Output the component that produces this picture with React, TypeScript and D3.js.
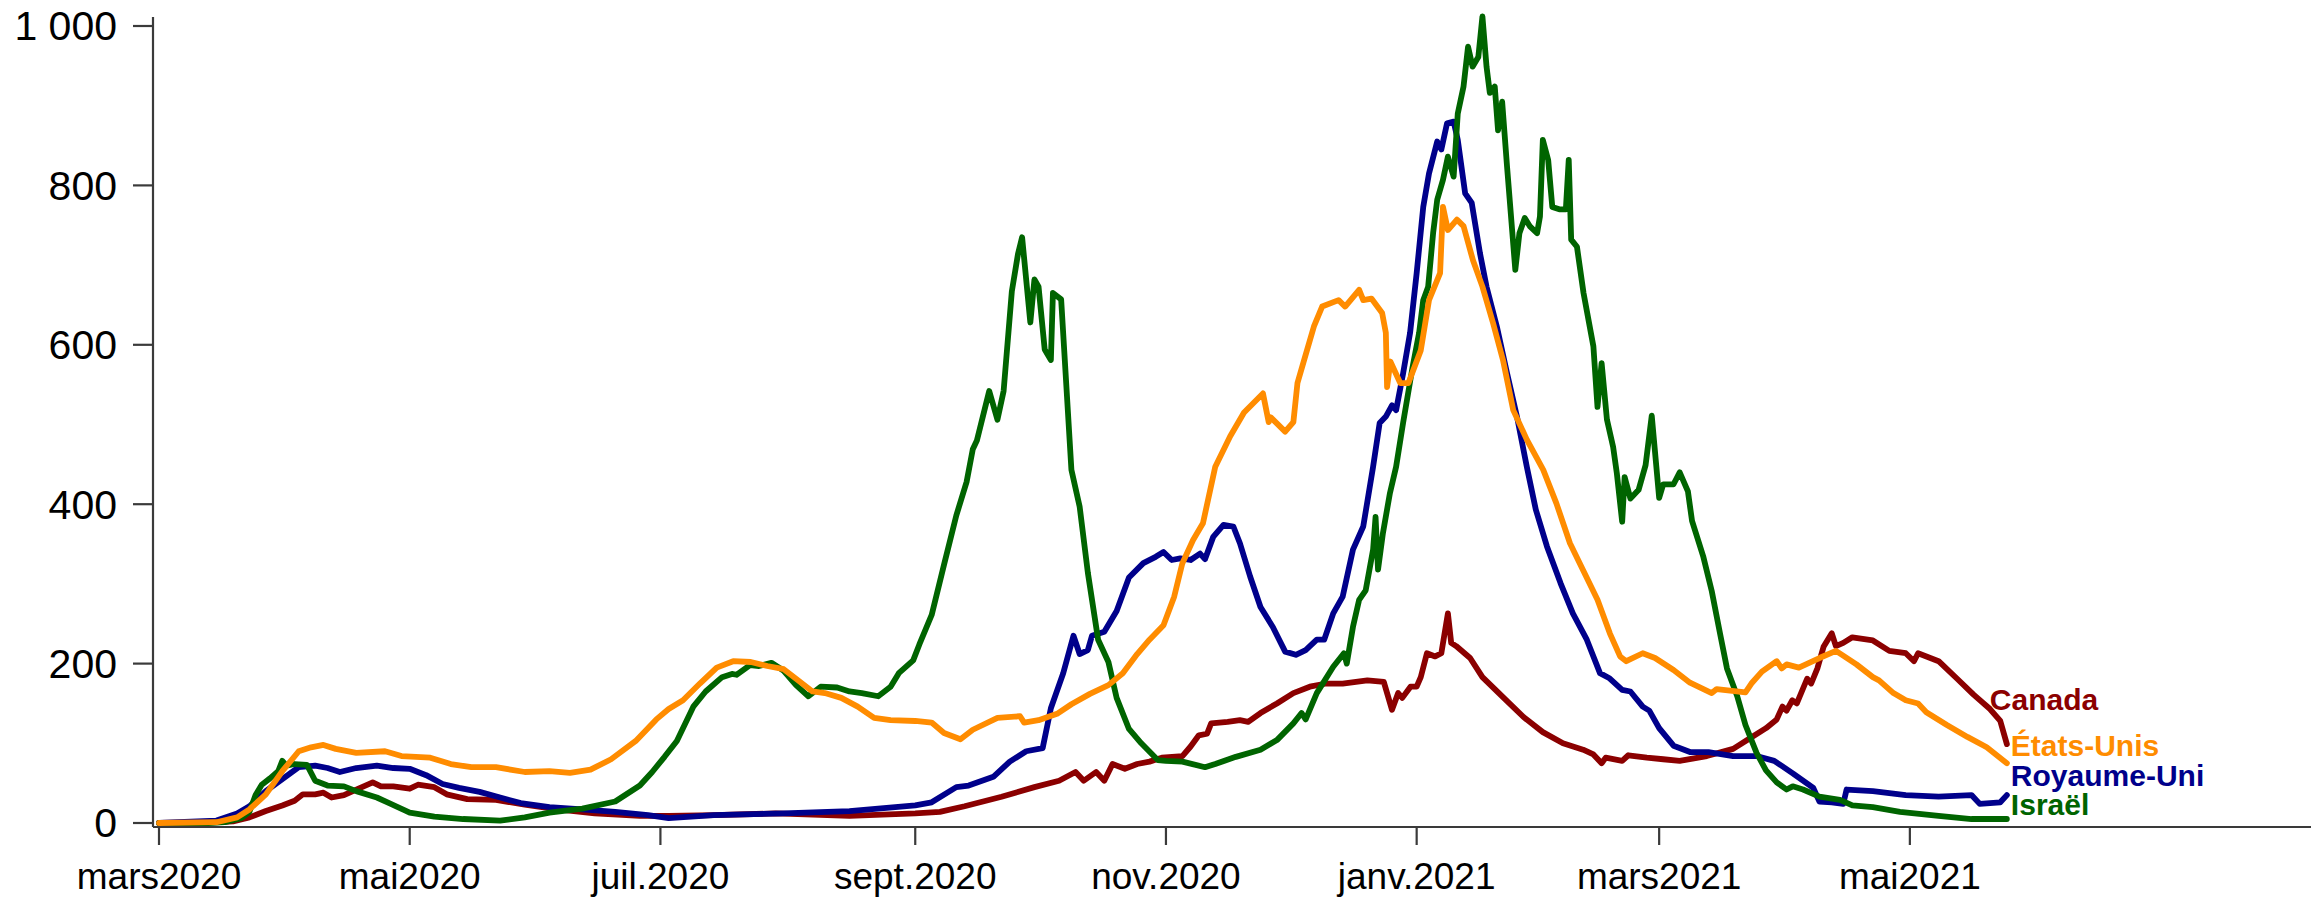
import React, { useEffect } from 'react';
import * as d3 from 'd3';

// ---- Data (day index = days since 1 March 2020, value = new cases per million, 7-day avg) ----
const monthTickDays = [0, 61, 122, 184, 245, 306, 365, 426];
const monthTickLabels = ['mars2020', 'mai2020', 'juil.2020', 'sept.2020', 'nov.2020', 'janv.2021', 'mars2021', 'mai2021'];
const yTickValues = [0, 200, 400, 600, 800, 1000];

const seriesNames = ['Canada', 'États-Unis', 'Royaume-Uni', 'Israël'];
const seriesColors = ['#8B0000', '#FF8C00', '#00008B', '#006400'];
const labelValues = [142, 84, 46, 10];

const canada: [number, number][] = [
  [0, 0], [10, 0.5], [15, 1], [18, 2], [22, 7], [26, 15], [30, 22], [33, 28], [35, 36], [38, 36], [40, 38], [42, 32],
  [45, 35], [48, 42], [52, 51], [54, 46], [57, 46], [61, 43], [63, 48], [67, 45], [70, 36], [75, 30], [82, 29], [89, 23],
  [97, 17], [106, 12], [117, 9], [124, 9], [135, 10], [150, 12], [168, 9], [184, 12], [190, 14], [196, 21], [205, 33],
  [213, 45], [219, 53], [223, 64], [225, 53], [228, 64], [230, 53], [232, 74], [235, 68], [238, 74], [241, 77], [244, 82],
  [249, 84], [251, 96], [253, 110], [255, 112], [256, 125], [260, 127], [263, 129], [265, 127], [268, 138], [272, 150],
  [276, 163], [280, 171], [284, 175], [288, 175], [294, 179], [298, 177], [300, 142], [301.5, 163], [302.5, 157],
  [304.5, 171], [306, 171], [307, 183], [308.5, 213], [310.5, 209], [312, 213], [313.6, 263], [314.4, 226], [315.6, 222],
  [319, 207], [322, 183], [327, 158], [332, 133], [336.7, 114], [341.6, 100], [346.5, 92], [349, 86], [351, 75], [352, 82],
  [356, 78], [357.5, 85], [362, 82], [366, 80], [370, 78], [376.6, 84], [383, 93], [387, 106], [391, 119], [393.6, 130],
  [395, 146], [396, 141], [397.4, 154], [398.5, 150], [401, 181], [402, 175], [403.5, 194], [405, 221], [407, 238],
  [408, 222], [409.8, 226], [412, 233], [417, 229], [421, 216], [425, 213], [427, 203], [428, 213], [433, 203],
  [437.5, 181], [441.5, 161], [445.5, 143], [448, 128], [449.6, 99],
];

const etatsUnis: [number, number][] = [
  [0, 0], [14, 1], [19, 7], [22, 17], [26, 36], [30, 65], [34, 90], [37, 95], [40, 98], [43, 93], [48, 88], [55, 90],
  [59, 84], [66, 82], [71, 74], [76, 70], [82, 70], [89, 64], [95, 65], [100, 63], [105, 67], [110, 80], [116, 103],
  [121, 130], [124, 143], [127.5, 154], [131.6, 175], [135.7, 195], [139.7, 203], [144, 202], [148, 197], [152, 193],
  [155, 181], [159, 165], [162, 163], [166, 157], [170, 146], [174, 132], [178, 129], [184, 128], [188, 126], [191, 113],
  [195, 105], [198, 117], [204, 132], [209.5, 134], [210.5, 126], [214, 129], [218.5, 137], [222, 149], [226.5, 162],
  [231, 173], [234.5, 188], [238, 212], [241, 230], [244.4, 248], [247, 284], [249, 326], [251.6, 355], [254, 376],
  [257, 447], [260.6, 485], [264, 515], [268.6, 539], [270, 503], [270.5, 509], [274, 491], [276, 503], [277, 552],
  [278.4, 577], [281, 623], [283, 648], [287, 656], [288.6, 648], [292, 669], [293, 656], [295, 658], [297.6, 640],
  [298.5, 615], [298.8, 547], [299.6, 579], [302, 552], [304, 552], [307, 593], [309, 656], [311.7, 690], [312.4, 773],
  [313.6, 744], [315.8, 757], [317.4, 749], [319.7, 706], [322, 673], [324.6, 627], [327, 581], [329.5, 518], [332.8, 481],
  [336.8, 443], [340, 401], [343.3, 351], [346.5, 317], [350, 280], [353, 238], [355.5, 209], [357, 203], [361, 213],
  [364, 207], [368.5, 192], [372.5, 176], [377.8, 163], [379, 168], [386, 164], [387.6, 176], [390, 190], [393.6, 203],
  [394.8, 194], [396, 199], [399, 195], [404, 207], [408, 216], [409.5, 211], [413, 199], [417, 183], [418.5, 179],
  [422, 163], [425, 154], [428, 150], [430, 139], [435, 123], [440, 108], [444.7, 95], [449.6, 75],
];

const royaumeUni: [number, number][] = [
  [0, 0], [14, 3], [19, 12], [22, 21], [26, 40], [30, 55], [34, 70], [38, 72], [41, 69], [44, 64], [48, 69], [53, 72],
  [57, 69], [61, 68], [65, 60], [69, 49], [73, 44], [78, 39], [83, 32], [88, 25], [95, 20], [103, 17], [111, 14],
  [119, 10], [124, 6], [135, 10], [152, 12], [168, 15], [184, 22], [188, 26], [194, 45], [197, 47], [203, 58], [207, 77],
  [211, 90], [215, 94], [217, 144], [220, 188], [222.5, 235], [224, 212], [226, 217], [227, 235], [230, 240], [233, 266],
  [236, 308], [239.5, 326], [242.5, 334], [244.4, 340], [246.4, 330], [248.5, 332], [251, 330], [253.3, 338],
  [254.5, 331], [256.5, 359], [259, 374], [261.4, 372], [263, 351], [265.5, 309], [268, 271], [271, 246], [274, 215],
  [276.6, 211], [279, 217], [281.7, 230], [283.5, 230], [285.7, 263], [288, 284], [290.5, 343], [293, 372], [295.4, 447],
  [297, 502], [298.5, 510], [300, 524], [301, 518], [302.7, 564], [304.4, 615], [306, 690], [307.6, 773], [309, 815],
  [311, 855], [312, 845], [313.4, 878], [315, 880], [316, 857], [317.8, 790], [319.4, 778], [321.4, 715], [323, 673],
  [325.5, 623], [328, 564], [330.4, 510], [332.8, 447], [335, 393], [337.7, 347], [341, 301], [344, 263], [347.4, 230],
  [350.6, 188], [352.8, 182], [356, 167], [358, 165], [361, 146], [362.6, 141], [365, 119], [368.5, 97], [372.5, 89],
  [377, 89], [383, 84], [388.7, 84], [393, 78], [397.6, 62], [402.5, 44], [404, 27], [407, 26], [409.8, 24], [410.6, 42],
  [417, 40], [425, 35], [433, 33], [441, 35], [443, 24], [448, 26], [449.6, 35],
];

const israel: [number, number][] = [
  [0, 0], [12, 0], [16, 1], [20, 6], [22, 14], [23.5, 35], [25, 48], [27, 56], [29, 65], [30, 78], [31, 72], [33, 74],
  [36, 73], [38, 53], [41, 47], [45, 46], [48, 40], [53, 32], [56, 25], [61, 13], [67, 8], [74, 5], [83, 3], [89, 7],
  [95, 13], [103, 18], [111, 27], [117, 47], [120, 64], [123, 83], [126, 103], [130, 146], [133, 165], [137, 183],
  [139.4, 187], [140.5, 186], [143.8, 198], [146, 197], [149, 201], [152, 191], [155, 173], [158, 159], [161, 171], [165, 170],
  [168, 165], [171, 163], [175, 159], [178, 171], [180, 188], [183.5, 204], [185, 224], [188, 261], [191, 324], [194, 386],
  [196.5, 428], [198, 469], [199, 480], [202, 542], [204, 506], [205.5, 542], [207.5, 667], [209, 714], [210, 735],
  [212, 628], [213, 682], [214, 673], [215.5, 594], [217, 581], [217.5, 665], [219.5, 657], [222, 443], [224, 397],
  [226, 314], [228.5, 230], [231, 202], [233, 157], [236, 118], [239, 100], [243, 79], [245, 78], [249, 77], [254.5, 70],
  [257, 74], [262, 83], [268, 92], [272, 104], [276, 125], [278, 138], [279, 130], [281.7, 163], [285.7, 196],
  [288.3, 213], [289, 200], [290.5, 246], [292, 280], [293.6, 292], [295.4, 343], [296, 384], [296.6, 318], [297.8, 364],
  [299.5, 414], [301, 447], [302.7, 502], [305, 572], [306.6, 615], [307.6, 656], [308.8, 673], [310, 740], [311, 782],
  [312.4, 807], [313.6, 836], [315, 811], [316, 890], [317.4, 924], [318.5, 974], [319.6, 949], [321, 961], [322, 1012],
  [323, 949], [323.8, 916], [325, 924], [325.8, 869], [326.8, 905], [328, 823], [330, 694], [331, 740], [332.3, 759],
  [333.5, 749], [335.3, 740], [336, 761], [336.7, 857], [338, 832], [339, 773], [340.7, 770], [342.3, 770], [343, 832],
  [343.6, 732], [345, 723], [346.6, 665], [349, 598], [350, 522], [351, 577], [352.3, 506], [353.8, 472], [354.7, 439],
  [356, 378], [356.6, 434], [358, 407], [360, 418], [361.7, 449], [363.2, 511], [365, 408], [366, 425], [368.5, 425],
  [370, 440], [372, 416], [373, 379], [375.7, 335], [377.8, 291], [379.8, 238], [381.5, 194], [384, 159], [386, 123],
  [388.7, 88], [391, 66], [393.6, 51], [396, 42], [397.5, 46], [400, 42], [404, 33], [409, 29], [412, 22], [417, 20],
  [423.6, 14], [433, 9], [441, 5], [449.6, 5],
];

const seriesData = [canada, etatsUnis, royaumeUni, israel];
// drawing order (last on top): Canada, Royaume-Uni, Israël, États-Unis
const drawOrder = [0, 2, 3, 1];

// ---- Layout ----
const W = 2323;
const H = 897;
const axisLeft = 153;
const axisRight = 2311;
const axisBottom = 827;
const axisTop = 17;
const FONT = '"Liberation Sans", Arial, Helvetica, sans-serif';
const AXIS_COLOR = '#3a3a3a';

const fr = d3.formatLocale({ decimal: ',', thousands: ' ', grouping: [3], currency: ['', ' €'] });
const fmt = fr.format(',d');

export default function App() {
  useEffect(() => {
    document.body.style.margin = '0';
  }, []);

  const x = d3.scaleLinear().domain([-1.46, 523.6]).range([axisLeft, axisRight]);
  const y = d3.scaleLinear().domain([0, 1000]).range([823, 26]);
  const line = d3
    .line<[number, number]>()
    .x((d) => x(d[0]))
    .y((d) => y(d[1]));

  return (
    <svg
      width={W}
      height={H}
      viewBox={`0 0 ${W} ${H}`}
      style={{ position: 'absolute', left: 0, top: 0, background: '#fff' }}
      fontFamily={FONT}
    >
      <rect x={0} y={0} width={W} height={H} fill="#fff" />
      {/* axes */}
      <line x1={axisLeft} x2={axisLeft} y1={axisTop} y2={axisBottom} stroke={AXIS_COLOR} strokeWidth={2.2} />
      <line x1={axisLeft} x2={axisRight} y1={axisBottom} y2={axisBottom} stroke={AXIS_COLOR} strokeWidth={2.2} />
      {yTickValues.map((v) => (
        <g key={`y${v}`}>
          <line x1={axisLeft - 20} x2={axisLeft} y1={y(v)} y2={y(v)} stroke={AXIS_COLOR} strokeWidth={2.2} />
          <text x={117} y={y(v)} dy="0.35em" textAnchor="end" fontSize={41} fill="#000">
            {fmt(v)}
          </text>
        </g>
      ))}
      {monthTickDays.map((d, i) => (
        <g key={`x${d}`}>
          <line x1={x(d)} x2={x(d)} y1={axisBottom} y2={axisBottom + 18} stroke={AXIS_COLOR} strokeWidth={2.2} />
          <text x={x(d)} y={889} textAnchor="middle" fontSize={37} fill="#000">
            {monthTickLabels[i]}
          </text>
        </g>
      ))}
      {/* series */}
      {drawOrder.map((i) => (
        <path
          key={seriesNames[i]}
          d={line(seriesData[i]) || ''}
          fill="none"
          stroke={seriesColors[i]}
          strokeWidth={5.8}
          strokeLinejoin="round"
          strokeLinecap="round"
        />
      ))}
      {/* end labels */}
      {seriesNames.map((name, i) => {
        const data = seriesData[i];
        const last = data[data.length - 1];
        const lx = x(last[0]) + (i === 0 ? -17 : 4);
        return (
          <text
            key={`lab${name}`}
            x={lx}
            y={y(labelValues[i])}
            fontSize={30}
            fontWeight="bold"
            fill={seriesColors[i]}
          >
            {name}
          </text>
        );
      })}
    </svg>
  );
}
